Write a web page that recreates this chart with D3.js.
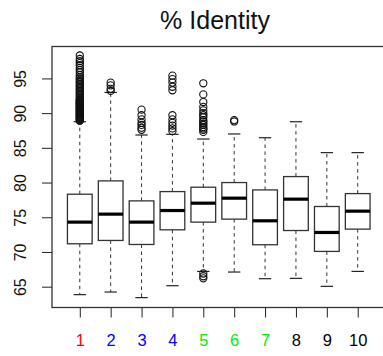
<!DOCTYPE html>
<meta charset="utf-8">
<style>
  body { margin: 0; background: white; }
  text { font-family: "Liberation Sans", Arial, sans-serif; }
</style>

<!-- Load d3.js -->
<script src="https://d3js.org/d3.v7.min.js"></script>

<div id="my_dataviz"></div>

<script>

// groups along the x axis and colour of each label
var groups = ["1", "2", "3", "4", "5", "6", "7", "8", "9", "10"];
var labelColors = ["#ff0000", "#0000ff", "#0000ff", "#0000ff", "#00ee00", "#00ee00", "#00ee00", "#000000", "#000000", "#000000"];

// box statistics
var lowerWhisker = [63.85, 64.23, 63.42, 65.14, 67.2, 67.11, 66.15, 66.2, 65.05, 67.2];
var q1           = [71.18, 71.66, 71.08, 73.19, 74.30, 74.73, 71.04, 73.09, 70.08, 73.29];
var median       = [74.30, 75.45, 74.30, 75.97, 77.03, 77.75, 74.49, 77.61, 72.81, 75.88];
var q3           = [78.32, 80.24, 77.36, 78.70, 79.33, 80.00, 78.94, 80.86, 76.55, 78.41];
var upperWhisker = [88.76, 92.98, 86.85, 86.95, 86.27, 87.00, 86.46, 88.76, 84.31, 84.31];

// outlying points for each group
var outliers = [
  [88.9, 89.0, 89.1, 89.2, 89.3, 89.4, 89.5, 89.6, 89.7, 89.8, 89.9, 90.0, 90.1, 90.2, 90.3,
   90.4, 90.5, 90.6, 90.7, 90.8, 90.9, 91.0, 91.1, 91.2, 91.3, 91.4, 91.5, 91.6, 91.7, 91.8,
   91.9, 92.0, 92.2, 92.4, 92.6, 92.8, 93.0, 93.2, 93.4, 93.6, 93.8, 94.0, 94.2, 94.4, 94.6,
   94.8, 95.0, 95.2, 95.5, 95.9, 96.2, 96.5, 96.9, 97.2, 97.5, 97.8, 98.3],
  [93.2, 93.5, 94.0, 94.4],
  [87.6, 87.9, 88.3, 88.6, 89.1, 89.7, 90.5],
  [87.4, 87.8, 88.2, 88.6, 89.1, 89.7, 93.3, 93.8, 94.4, 94.9, 95.4],
  [66.2, 66.5, 66.9, 87.3, 87.6, 87.8, 88.0, 88.3, 88.5, 88.8, 89.0, 89.4, 89.7, 90.0, 90.4,
   90.9, 91.6, 92.7, 94.3],
  [88.8, 89.0],
  [], [], [], []
];

var yTicks = [65, 70, 75, 80, 85, 90, 95];
var title = "% Identity";

// plot region
var plotLeft = 52, plotRight = 385.5, plotTop = 46.5, plotBottom = 307.5;

var svg = d3.select("#my_dataviz")
  .append("svg")
    .attr("width", 383)
    .attr("height", 356);

var x = d3.scaleLinear()
  .domain([0.1, 10.9])
  .range([plotLeft, plotRight]);

var y = d3.scaleLinear()
  .domain([62.0, 99.6])
  .range([plotBottom, plotTop]);

var data = groups.map(function (g, i) {
  return { name: g, pos: i + 1, lo: lowerWhisker[i], q1: q1[i], med: median[i],
           q3: q3[i], hi: upperWhisker[i], out: outliers[i], color: labelColors[i] };
});

// Y axis
var yAxis = svg.append("g")
  .attr("transform", "translate(" + plotLeft + ",0)")
  .call(d3.axisLeft(y).tickValues(yTicks).tickSize(10).tickFormat(d3.format("d")));
yAxis.select(".domain").remove();
yAxis.selectAll(".tick line").attr("stroke", "#222");
yAxis.selectAll(".tick text")
  .attr("transform", "rotate(-90)")
  .attr("x", 0)
  .attr("y", -26.5)
  .attr("dy", 0)
  .attr("text-anchor", "middle")
  .style("font-size", "16px")
  .style("font-family", "'Liberation Sans', Arial, sans-serif")
  .attr("fill", "#111");

// X axis
var xAxis = svg.append("g")
  .attr("transform", "translate(0," + plotBottom + ")")
  .call(d3.axisBottom(x).tickValues(d3.range(1, 11)).tickSize(10)
        .tickFormat(function (d) { return groups[d - 1]; }));
xAxis.select(".domain").remove();
xAxis.selectAll(".tick line").attr("stroke", "#222");
xAxis.selectAll(".tick text")
  .attr("y", 38.5)
  .attr("dy", 0)
  .style("font-size", "16.5px")
  .style("font-family", "'Liberation Sans', Arial, sans-serif")
  .attr("fill", function (d) { return labelColors[d - 1]; });

// whiskers (dashed)
var boxes = svg.append("g");
boxes.selectAll("wl")
  .data(data)
  .enter()
  .append("line")
    .attr("x1", function (d) { return x(d.pos); })
    .attr("x2", function (d) { return x(d.pos); })
    .attr("y1", function (d) { return y(d.q1); })
    .attr("y2", function (d) { return y(d.lo); })
    .attr("stroke", "#333")
    .attr("stroke-dasharray", "3.5,3.5");
boxes.selectAll("wh")
  .data(data)
  .enter()
  .append("line")
    .attr("x1", function (d) { return x(d.pos); })
    .attr("x2", function (d) { return x(d.pos); })
    .attr("y1", function (d) { return y(d.q3); })
    .attr("y2", function (d) { return y(d.hi); })
    .attr("stroke", "#333")
    .attr("stroke-dasharray", "3.5,3.5");

// staples
["lo", "hi"].forEach(function (k) {
  boxes.selectAll("st" + k)
    .data(data)
    .enter()
    .append("line")
      .attr("x1", function (d) { return x(d.pos - 0.2); })
      .attr("x2", function (d) { return x(d.pos + 0.2); })
      .attr("y1", function (d) { return y(d[k]); })
      .attr("y2", function (d) { return y(d[k]); })
      .attr("stroke", "#222")
      .attr("stroke-width", 1.2);
});

// boxes
boxes.selectAll("box")
  .data(data)
  .enter()
  .append("rect")
    .attr("x", function (d) { return x(d.pos - 0.4); })
    .attr("width", function (d) { return x(d.pos + 0.4) - x(d.pos - 0.4); })
    .attr("y", function (d) { return y(d.q3); })
    .attr("height", function (d) { return y(d.q1) - y(d.q3); })
    .attr("fill", "white")
    .attr("stroke", "#333")
    .attr("stroke-width", 1.3);

// medians
boxes.selectAll("med")
  .data(data)
  .enter()
  .append("line")
    .attr("x1", function (d) { return x(d.pos - 0.4); })
    .attr("x2", function (d) { return x(d.pos + 0.4); })
    .attr("y1", function (d) { return y(d.med); })
    .attr("y2", function (d) { return y(d.med); })
    .attr("stroke", "black")
    .attr("stroke-width", 3.2);

// outliers
var pts = [];
data.forEach(function (d) {
  d.out.forEach(function (v) { pts.push({ pos: d.pos, v: v }); });
});
boxes.selectAll("dot")
  .data(pts)
  .enter()
  .append("circle")
    .attr("cx", function (d) { return x(d.pos); })
    .attr("cy", function (d) { return y(d.v); })
    .attr("r", 3.6)
    .attr("fill", "none")
    .attr("stroke", "#111")
    .attr("stroke-width", 1.1);

// frame
svg.append("rect")
  .attr("x", plotLeft)
  .attr("y", plotTop)
  .attr("width", plotRight - plotLeft)
  .attr("height", plotBottom - plotTop)
  .attr("fill", "none")
  .attr("stroke", "#333")
  .attr("stroke-width", 1.3);

// title
svg.append("text")
  .attr("x", 215)
  .attr("y", 29)
  .attr("text-anchor", "middle")
  .style("font-size", "25px")
  .attr("fill", "#111")
  .text(title);

</script>
